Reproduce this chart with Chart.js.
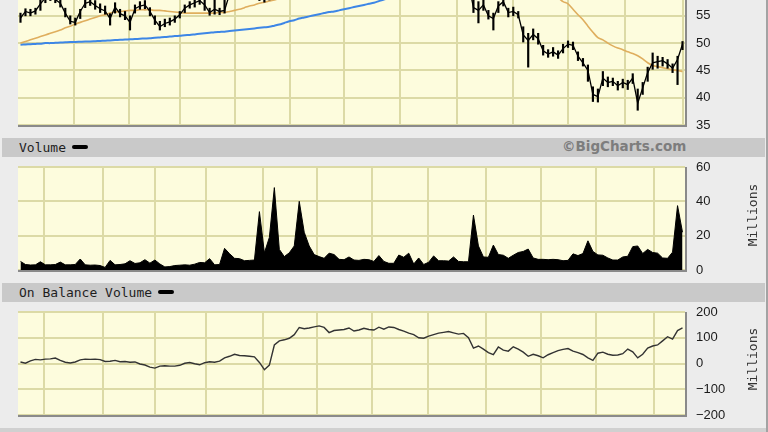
<!DOCTYPE html>
<html>
<head>
<meta charset="utf-8">
<script src="https://cdn.jsdelivr.net/npm/chart.js@4.4.1/dist/chart.umd.min.js"></script>
<style>
  html, body { margin: 0; padding: 0; }
  body { width: 768px; height: 432px; background: #ececec; position: relative; overflow: hidden; }
  canvas { position: absolute; left: 0; }
  .head { position: absolute; left: 2px; width: 763px; height: 19px; background: #c9c9c9; z-index: 2; }
  .head .lbl { position: absolute; left: 17px; top: 2px; font: 13px "DejaVu Sans Mono", monospace; color: #1e1e1e; white-space: pre; }
  .swatch { display: inline-block; width: 16px; height: 4px; background: #000; border-radius: 2px; vertical-align: 3px; margin-left: 6px; }
  .brand { position: absolute; left: 560px; top: 0px; font: bold 13.5px "DejaVu Sans", sans-serif; color: #7d7d7d; }
  .units { position: absolute; width: 70px; height: 14px; line-height: 14px; text-align: center; font: 13px "DejaVu Sans Mono", monospace; color: #333; transform: rotate(-90deg); z-index: 2; }
  .edge { position: absolute; right: 0; top: 0; width: 2px; height: 432px; background: #a3a3a3; z-index: 3; }
  .foot { position: absolute; left: 0; top: 428px; width: 768px; height: 4px; background: #d0d0d0; }
</style>
</head>
<body>
<canvas id="priceChart" width="768" height="135" style="top:0"></canvas>
<div class="head" style="top:138px"><span class="lbl">Volume<span class="swatch"></span></span><span class="brand">©BigCharts.com</span></div>
<canvas id="volumeChart" width="768" height="122" style="top:158px"></canvas>
<div class="units" style="left:717px; top:208px">Millions</div>
<div class="head" style="top:283px"><span class="lbl">On Balance Volume<span class="swatch"></span></span></div>
<canvas id="obvChart" width="768" height="122" style="top:303px"></canvas>
<div class="units" style="left:717px; top:352px">Millions</div>
<div class="foot"></div>
<div class="edge"></div>
<script>
// Daily price bars (sampled every other session), hidden part is above the visible window
const priceClose = [54.6,55.8,55.5,55.9,57.2,58.3,58.5,58.0,57.3,55.5,
  54.0,53.8,55.8,57.3,57.6,56.9,56.3,55.9,54.5,56.6,
  55.4,55.0,53.8,56.3,56.8,57.0,55.8,54.2,53.0,53.6,
  53.9,54.4,55.2,56.4,57.0,57.4,57.8,57.0,55.6,56.2,
  55.8,56.0,59.0,59.6,60.0,59.5,59.2,58.8,58.6,58.4,
  58.8,59.6,60.8,62.0,62.8,64.2,65.0,64.4,65.8,66.6,
  66.0,65.4,64.6,65.4,66.2,67.0,67.6,66.8,67.4,68.4,
  67.8,68.8,69.6,68.8,69.4,68.4,67.2,66.2,65.0,64.0,
  63.2,63.8,64.8,65.6,66.2,65.6,66.4,65.8,65.0,64.6,
  61.0,56.5,56.0,57.0,55.0,54.5,56.8,57.6,55.6,55.8,
  55.2,51.5,50.5,51.6,50.8,48.6,48.0,48.4,47.8,49.0,
  49.8,49.6,47.6,46.4,45.0,40.6,40.2,43.6,42.8,43.0,
  42.2,42.8,42.4,43.6,39.0,41.8,44.6,46.4,46.6,46.8,
  46.2,45.4,47.0,49.8];
const priceLow = [53.8,55.0,55.0,55.3,56.0,57.4,57.8,57.4,56.6,54.8,
  53.5,53.3,54.5,56.5,56.9,56.2,55.6,55.3,53.3,55.5,
  54.8,54.3,52.4,55.5,56.2,56.3,55.0,53.4,52.4,53.0,
  53.3,53.8,54.6,55.6,56.4,56.6,57.1,56.0,55.1,55.3,
  55.2,55.5,58.2,58.8,59.2,58.7,58.5,58.2,57.8,57.5,
  57.9,58.6,60.0,61.2,62.0,63.4,64.2,63.6,65.0,65.8,
  65.2,64.6,63.8,64.6,65.4,66.2,66.8,66.0,66.6,67.6,
  67.0,68.0,68.8,68.0,68.6,67.6,66.4,65.4,64.2,63.2,
  62.4,63.0,64.0,64.8,65.4,64.8,65.6,65.0,64.2,63.8,
  59.8,55.6,53.7,56.0,54.4,52.4,55.6,56.8,54.8,55.0,
  54.6,50.2,45.6,50.6,49.8,47.8,47.4,47.6,47.2,48.2,
  49.2,48.8,46.8,45.8,43.0,39.3,39.2,42.2,42.0,42.2,
  41.4,41.8,41.5,42.6,37.7,40.6,43.0,45.2,45.4,45.8,
  45.4,44.6,42.4,48.8];
const priceHigh = [55.5,56.3,56.2,56.4,58.2,59.2,59.4,58.8,58.2,56.4,
  55.0,54.6,56.2,58.0,58.4,57.8,57.2,56.8,55.4,57.4,
  56.2,55.8,55.0,57.0,57.6,57.8,56.5,55.0,54.0,54.4,
  54.6,55.0,55.8,57.0,57.6,58.0,58.6,58.2,56.4,58.1,
  56.4,58.5,59.8,60.4,60.8,60.3,60.0,59.8,59.4,59.2,
  59.6,60.5,61.6,62.8,63.6,65.0,65.8,65.2,66.6,67.4,
  66.8,66.2,65.4,66.2,67.0,67.8,68.4,67.6,68.2,69.2,
  68.6,69.6,70.4,69.6,70.2,69.2,68.0,67.0,65.8,64.8,
  64.0,64.6,65.6,66.4,67.0,66.4,67.2,66.6,65.8,65.4,
  62.2,58.4,57.6,58.3,56.0,55.5,57.6,58.4,56.4,56.6,
  55.8,53.0,51.8,52.6,51.8,49.6,48.8,49.2,48.6,49.8,
  50.4,50.2,48.4,47.2,46.0,42.0,41.6,44.8,43.8,43.6,
  43.0,43.4,43.2,44.4,41.6,42.8,45.6,48.2,47.6,47.4,
  47.0,46.2,47.6,50.3];
// Moving averages
const ma50 = [50.0,50.3,50.6,50.9,51.2,51.5,51.8,52.1,52.4,52.8,
  53.1,53.5,53.8,54.1,54.4,54.7,55.0,55.2,55.5,55.7,
  55.8,55.9,56.0,56.0,56.1,56.1,56.1,56.0,56.0,55.9,
  55.8,55.7,55.6,55.5,55.5,55.5,55.5,55.5,55.5,55.5,
  55.6,55.6,55.8,56.0,56.2,56.5,56.8,57.0,57.3,57.5,
  57.7,57.9,58.2,58.5,58.8,59.1,59.4,59.8,60.2,60.6,
  61.0,61.4,61.8,62.2,62.5,62.8,63.1,63.3,63.5,63.7,
  63.9,64.1,64.3,64.5,64.7,64.8,64.9,65.0,65.0,64.9,
  64.8,64.7,64.6,64.5,64.4,64.3,64.2,64.1,63.9,63.7,
  63.4,63.1,62.8,62.5,62.2,61.9,61.6,61.3,61.0,60.7,
  60.4,60.1,59.8,59.5,59.3,59.1,58.9,58.6,58.3,57.6,
  57.2,56.2,55.2,54.3,53.1,52.0,51.0,50.6,50.0,49.5,
  49.1,48.8,48.4,48.1,47.7,47.1,46.4,45.9,45.7,45.5,
  45.3,45.1,45.0,44.8];
const ma200 = [49.7,49.75,49.8,49.85,49.9,50.0,50.0,50.05,50.1,50.15,
  50.2,50.2,50.25,50.3,50.3,50.35,50.4,50.45,50.5,50.55,
  50.6,50.65,50.7,50.75,50.8,50.85,50.9,51.0,51.05,51.1,
  51.2,51.3,51.35,51.45,51.5,51.6,51.7,51.8,51.9,52.0,
  52.05,52.1,52.2,52.3,52.4,52.5,52.6,52.7,52.8,52.9,
  53.0,53.2,53.4,53.7,54.0,54.2,54.5,54.7,54.9,55.1,
  55.3,55.5,55.7,55.8,56.0,56.2,56.4,56.6,56.8,57.0,
  57.2,57.4,57.7,58.0,58.2,58.4,58.6,58.8,59.0,59.2,
  59.4,59.6,59.8,60.0,60.2,60.4,60.6,60.8,61.0,61.1,
  61.2,61.3,61.4,61.5,61.6,61.6,61.7,61.7,61.8,61.8,
  61.8,61.8,61.7,61.7,61.6,61.5,61.4,61.3,61.2,61.1,
  61.0,60.9,60.8,60.7,60.6,60.4,60.2,60.1,60.0,59.9,
  59.8,59.7,59.6,59.5,59.4,59.3,59.2,59.1,59.0,58.9,
  58.8,58.7,58.6,58.5];
// Volume, millions of shares
const volume = [5.0,3.2,2.9,3.0,4.8,3.0,3.0,3.2,4.6,3.0,
  3.0,3.2,6.4,3.0,2.8,2.9,2.6,1.5,5.6,3.0,
  3.2,3.6,5.4,3.8,4.2,6.0,4.0,5.8,3.5,1.8,
  2.0,2.6,2.8,3.0,2.8,3.4,4.4,4.2,6.6,3.0,
  3.2,12.6,9.5,6.8,6.6,5.4,5.6,5.8,34.0,10.0,
  19.0,48.0,12.0,7.8,10.0,14.0,40.0,22.0,14.0,9.0,
  7.8,6.8,9.8,9.0,6.2,6.0,7.6,5.8,5.6,6.2,
  6.0,5.0,8.4,5.0,3.9,3.9,8.7,7.4,9.8,3.5,
  7.0,3.2,4.5,8.2,5.4,5.4,5.2,7.6,5.0,4.8,
  4.8,32.0,14.0,7.6,7.4,14.5,9.0,8.6,6.8,8.6,
  10.2,10.8,12.2,7.0,6.2,6.2,6.0,6.2,6.0,5.4,
  5.6,9.4,8.4,9.6,17.0,10.8,8.8,8.6,7.0,5.8,
  5.8,7.6,8.0,13.6,14.0,9.6,12.0,10.2,9.8,7.0,
  6.8,10.4,37.5,22.0];
// On Balance Volume, millions
const obv = [6,1,10,16,14,17,18,21,12,5,
  2,6,14,17,16,17,15,8,9,12,
  7,8,5,6,-2,-6,-14,-18,-10,-9,
  -10,-10,-7,1,4,-1,-5,3,7,5,
  9,22,28,36,31,30,28,26,4,-24,
  -6,72,88,92,98,112,140,135,138,142,
  146,140,120,128,130,132,138,126,130,137,
  132,130,141,133,142,140,132,126,118,112,
  100,98,106,112,118,121,124,119,114,117,
  100,60,68,56,42,34,64,52,48,65,
  56,44,28,36,30,22,34,42,50,55,
  58,48,42,35,22,12,40,44,36,32,
  33,38,56,45,22,36,60,68,72,88,
  104,95,128,138];

// month boundaries on the session axis (vertical grid lines)
const monthStarts = [4.72,16.58,27.02,37.27,48.72,59.56,70.61,81.86,93.51,104.56,115.61,127.26];
const priceTicks = [35,40,45,50,55];
const volumeTicks = [0,20,40,60];
const obvTicks = [-200,-100,0,100,200];

const days = priceClose.map((_, i) => i);
const gridColor = '#dcdaa6';

// pale yellow plot area with a grey shadow on bottom/right
const panelFrame = {
    id: 'panelFrame',
    beforeDraw(chart) {
        const {ctx, chartArea: a} = chart;
        ctx.save();
        ctx.fillStyle = '#fdfcdd';
        ctx.fillRect(a.left, a.top, a.right - a.left, a.bottom - a.top);
        ctx.restore();
    },
    afterDraw(chart) {
        const {ctx, chartArea: a} = chart;
        ctx.save();
        ctx.strokeStyle = '#8a8a8a';
        ctx.lineWidth = 2;
        ctx.beginPath();
        ctx.moveTo(a.left, a.bottom + 1);
        ctx.lineTo(a.right + 1, a.bottom + 1);
        ctx.lineTo(a.right + 1, a.top);
        ctx.stroke();
        ctx.restore();
    }
};

function panelOptions(min, max, ticks, padTop, padBottom) {
    return {
        responsive: false,
        animation: false,
        devicePixelRatio: 1,
        layout: { padding: { left: 18, right: 0, top: padTop, bottom: padBottom } },
        plugins: { legend: { display: false }, tooltip: { enabled: false } },
        scales: {
            x: {
                type: 'linear', min: -0.5, max: days.length - 0.5, offset: false,
                afterBuildTicks: s => { s.ticks = monthStarts.map(v => ({ value: v })); },
                afterFit: s => { s.height = 0; s.paddingLeft = 0; s.paddingRight = 0; },
                ticks: { display: false },
                grid: { color: gridColor, lineWidth: 2, drawTicks: false },
                border: { display: false }
            },
            y: {
                position: 'right', min: min, max: max,
                afterBuildTicks: s => { s.ticks = ticks.map(v => ({ value: v })); },
                afterFit: s => { s.width = 83; s.paddingTop = 0; s.paddingBottom = 0; },
                grid: { color: gridColor, lineWidth: 2, drawTicks: false },
                border: { display: false },
                ticks: {
                    padding: 11, color: '#1a1a1a',
                    font: { family: 'Liberation Sans', size: 13 },
                    callback: v => String(v).replace('-', '\u2212')
                }
            }
        }
    };
}

new Chart(document.getElementById('priceChart').getContext('2d'), {
    type: 'line',
    data: {
        labels: days,
        datasets: [
            { data: priceClose, borderColor: '#000', borderWidth: 1.3, pointRadius: 0, tension: 0, order: 0 },
            { type: 'bar', data: priceLow.map((lo, i) => [lo, priceHigh[i]]), backgroundColor: '#000', barThickness: 1.5, order: 1 },
            { data: ma50, borderColor: '#dfae5e', borderWidth: 1.6, pointRadius: 0, tension: 0.3, order: 2 },
            { data: ma200, borderColor: '#3d86e6', borderWidth: 2, pointRadius: 0, tension: 0.3, order: 3 }
        ]
    },
    options: panelOptions(35, 57.9, priceTicks, 0, 10),
    plugins: [panelFrame]
});

new Chart(document.getElementById('volumeChart').getContext('2d'), {
    type: 'line',
    data: {
        labels: days,
        datasets: [{
            data: volume, borderColor: '#000', backgroundColor: '#000', borderWidth: 1,
            fill: 'origin', pointRadius: 0, tension: 0
        }]
    },
    options: panelOptions(0, 60, volumeTicks, 9, 10),
    plugins: [panelFrame]
});

new Chart(document.getElementById('obvChart').getContext('2d'), {
    type: 'line',
    data: {
        labels: days,
        datasets: [{
            data: obv, borderColor: '#333', borderWidth: 1.4, pointRadius: 0, tension: 0
        }]
    },
    options: panelOptions(-200, 200, obvTicks, 9, 10),
    plugins: [panelFrame]
});
</script>
</body>
</html>
